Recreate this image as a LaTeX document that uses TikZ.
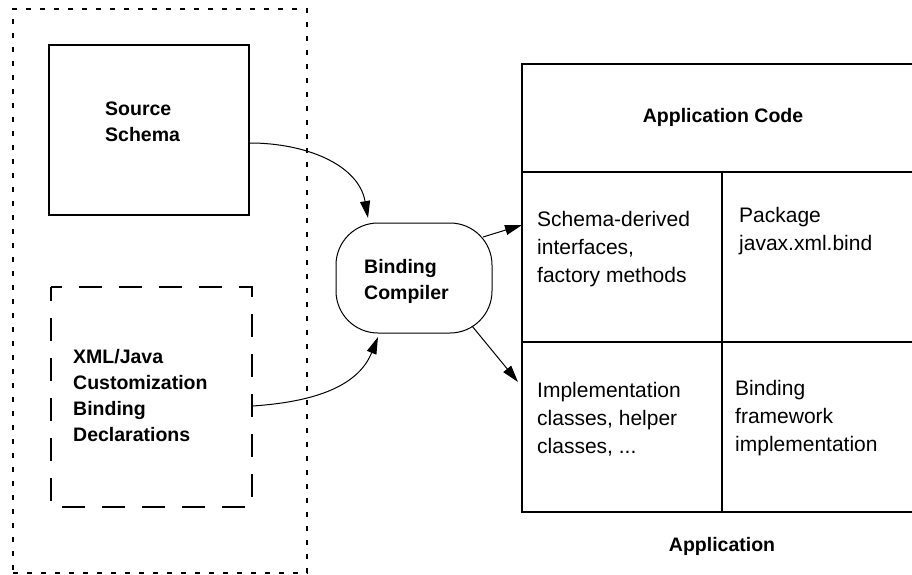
\documentclass[tikz,border=0pt]{standalone}
\usepackage{fontspec}
\setmainfont{Liberation Sans}
\usetikzlibrary{arrows.meta,calc}
\begin{document}
\begin{tikzpicture}[x=1pt,y=-1pt,
  % multi-line blocks are placed by the baseline of their last line
  lbl/.style={font=\fontsize{19.5}{26}\selectfont\bfseries, inner sep=0pt, align=left, anchor=base west},
  title/.style={font=\fontsize{19.5}{26}\selectfont\bfseries, inner sep=0pt, anchor=base},
  txt/.style={font=\fontsize{21}{28}\selectfont, inner sep=0pt, align=left, anchor=base west},
  area/.style={inner sep=0pt, outer sep=0pt},
  frame/.style={line width=2pt},
  flow/.style={-{Triangle[length=17pt,width=10pt]}, line width=1pt},
]
\useasboundingbox (0,0) rectangle (912,575);

% grouping frame around the compiler inputs
\node[area, draw, line width=1.6pt, dash pattern=on 5pt off 9pt,
      minimum width=294pt, minimum height=564pt] (grp) at (160,291) {};

% inputs
\node[area, draw, frame, minimum width=200pt, minimum height=170pt] (src) at (149,130) {};
\node[lbl] (srctext) at (105,141.5) {Source\\Schema};

\node[area, minimum width=201pt, minimum height=220pt] (xml) at (151.5,397) {};
\draw[frame, dash pattern=on 23pt off 17pt, dash phase=12pt]
  (xml.north west) -- (xml.north east) -- (xml.south east) -- (xml.south west) -- cycle;
\node[lbl] (xmltext) at (73,441) {XML/Java\\Customization\\Binding\\Declarations};

% compiler
\node[area, draw, line width=1pt, rounded corners=42pt,
      minimum width=156pt, minimum height=110pt] (bc) at (414,278) {};
\node[lbl] (bctext) at (364,299.5) {Binding\\Compiler};

% application block
\node[area, minimum width=392pt, minimum height=108pt] (hdr) at (718,118) {};
\node[area, minimum width=200pt, minimum height=170pt] (sd) at (622,257) {};
\node[area, minimum width=192pt, minimum height=170pt] (pkg) at (818,257) {};
\node[area, minimum width=200pt, minimum height=170pt] (impl) at (622,427) {};
\node[area, minimum width=192pt, minimum height=170pt] (fw) at (818,427) {};

\draw[frame] (hdr.north east) -- (hdr.north west) -- (impl.south west) -- (fw.south east);
\draw[frame] (hdr.south west) -- (hdr.south east);
\draw[frame] (impl.north west) -- (fw.north east);
\draw[frame] (sd.north east) -- (impl.south east);

\node[title] (hdrtext) at (723,122.7) {Application Code};
\node[txt] (sdtext) at (537,282) {Schema-derived\\interfaces,\\factory methods};
\node[txt] (pkgtext) at (739,250) {Package\\javax.xml.bind};
\node[txt] (impltext) at (537,453) {Implementation\\classes, helper\\classes, ...};
\node[txt] (fwtext) at (735,451) {Binding\\framework\\implementation};
\node[title] (apptext) at (722,551.7) {Application};

% connectors
\draw[flow] ($(src.east)+(1,13)$) to[out=0,in=100] ($(bc.north)+(-46,-5)$);
\draw[flow] ($(xml.east)+(1,9)$) to[out=4,in=-112] ($(bc.south)+(-36,4)$);
\draw[flow] ($(bc.east)+(-9,-41)$) -- ($(sd.west)+(0,-32)$);
\draw[flow] ($(bc.south east)+(-20,-7)$) -- ($(impl.west)+(-4,-45)$);
\end{tikzpicture}
\end{document}
